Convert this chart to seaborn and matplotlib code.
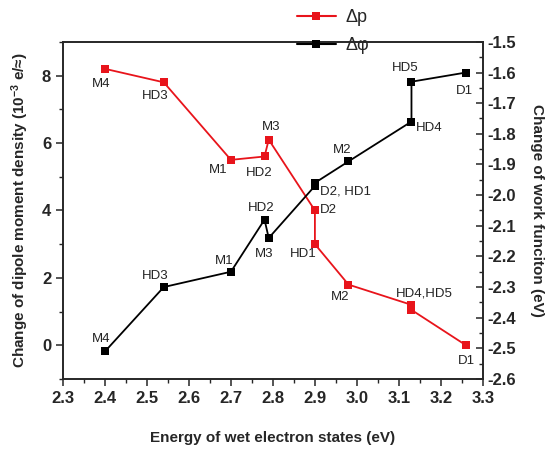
import numpy as np
import pandas as pd
import seaborn as sns
import matplotlib.pyplot as plt
from matplotlib.ticker import MultipleLocator
from matplotlib.lines import Line2D

sns.set_style('ticks')
plt.rcParams['font.family'] = ['Liberation Sans', 'DejaVu Sans']
plt.rcParams['mathtext.fontset'] = 'custom'
plt.rcParams['mathtext.bf'] = 'Liberation Sans:bold'
plt.rcParams['mathtext.rm'] = 'Liberation Sans'
plt.rcParams['mathtext.default'] = 'bf'

# dipole moment density change (left axis)
dp_energy = [2.40, 2.54, 2.70, 2.78, 2.79, 2.90, 2.90, 2.98, 3.13, 3.13, 3.26]
dp_value = [8.2, 7.8, 5.5, 5.6, 6.1, 4.0, 3.0, 1.8, 1.2, 1.05, 0.0]
dp_names = ['M4', 'HD3', 'M1', 'HD2', 'M3', 'D2', 'HD1', 'M2', 'HD4,HD5', '', 'D1']

# work function change (right axis)
wf_energy = [2.40, 2.54, 2.70, 2.78, 2.79, 2.90, 2.90, 2.98, 3.13, 3.13, 3.26]
wf_value = [-2.51, -2.30, -2.25, -2.08, -2.14, -1.97, -1.96, -1.89, -1.76, -1.63, -1.60]
wf_names = ['M4', 'HD3', 'M1', 'HD2', 'M3', 'D2, HD1', '', 'M2', 'HD4', 'HD5', 'D1']

dp = pd.DataFrame({'E': dp_energy, 'v': dp_value})
wf = pd.DataFrame({'E': wf_energy, 'v': wf_value})

fig, ax = plt.subplots(figsize=(5.55, 4.55), dpi=100)
fig.subplots_adjust(left=0.1135, right=0.870, bottom=0.167, top=0.908)
ax2 = ax.twinx()

sns.lineplot(data=dp, x='E', y='v', sort=False, estimator=None, color='#e8141b',
             marker='s', markersize=6, markeredgewidth=0, linewidth=1.3, ax=ax)
sns.lineplot(data=wf, x='E', y='v', sort=False, estimator=None, color='black',
             marker='s', markersize=6, markeredgewidth=0, linewidth=1.3, ax=ax2)

# label offsets in points
dp_off = [(-3, -11), (-6.5, -10), (-9.5, -7.5), (-4, -12), (1.5, 9), (10, 0),
          (-8.5, -7), (-6, -9), (9, 8), (0, 0), (0, -11.5)]
wf_off = [(-3, 9), (-6.5, 8), (-5, 8), (-2.5, 8.5), (-3.5, -11.5), (22, -4),
          (0, 0), (-4.5, 8), (13, -4.5), (-4.5, 10), (-1, -13.5)]

for x, y, t, o in zip(dp_energy, dp_value, dp_names, dp_off):
    if t:
        ax.annotate(t, (x, y), xytext=o, textcoords='offset points',
                    ha='center', va='center', fontsize=9.5, color='#222222')
for x, y, t, o in zip(wf_energy, wf_value, wf_names, wf_off):
    if t:
        ax2.annotate(t, (x, y), xytext=o, textcoords='offset points',
                     ha='center', va='center', fontsize=9.5, color='#222222')

ax.set_xlim(2.3, 3.3)
ax.set_ylim(-1, 9)
ax2.set_ylim(-2.6, -1.5)
ax.set_xticks(np.arange(2.3, 3.31, 0.1))
ax.set_xticklabels([f'{v:.1f}' for v in np.arange(2.3, 3.31, 0.1)])
ax.xaxis.set_minor_locator(MultipleLocator(0.05))
ax.set_yticks([0, 2, 4, 6, 8])
ax.yaxis.set_minor_locator(MultipleLocator(1))
ax2.set_yticks(np.arange(-2.6, -1.49, 0.1))
ax2.set_yticklabels([f'{v:.1f}' for v in np.arange(-2.6, -1.49, 0.1)])
ax2.yaxis.set_minor_locator(MultipleLocator(0.05))

for a in (ax, ax2):
    for s in a.spines.values():
        s.set_visible(True)
        s.set_linewidth(1.2)
ax.tick_params(axis='both', which='major', direction='out', length=5, width=1.1,
               labelsize=12)
ax.tick_params(axis='both', which='minor', direction='out', length=3, width=1.0)
ax2.tick_params(axis='y', which='major', direction='in', length=5, width=1.1,
                labelsize=12)
ax2.tick_params(axis='y', which='minor', direction='in', length=3, width=1.0)
for lab in ax.get_xticklabels() + ax.get_yticklabels() + ax2.get_yticklabels():
    lab.set_fontweight('bold')

ax.set_xlabel('Energy of wet electron states (eV)', fontsize=11, fontweight='bold',
              labelpad=18)
ax.set_ylabel('Change of dipole moment density (10$^{-3}$ e/≈)', fontsize=11,
              fontweight='bold', labelpad=8)
ax2.set_ylabel('Change of work funciton (eV)', fontsize=11, fontweight='bold',
               rotation=270, labelpad=20)

handles = [Line2D([], [], color='#e8141b', marker='s', markersize=6, markeredgewidth=0),
           Line2D([], [], color='black', marker='s', markersize=6, markeredgewidth=0)]
fig.legend(handles, ['Δp', 'Δφ'], loc='upper left', bbox_to_anchor=(0.505, 1.015),
           frameon=False, fontsize=13, handlelength=2.2, handletextpad=0.5,
           labelspacing=0.6)

fig.savefig('out.png', dpi=100)
